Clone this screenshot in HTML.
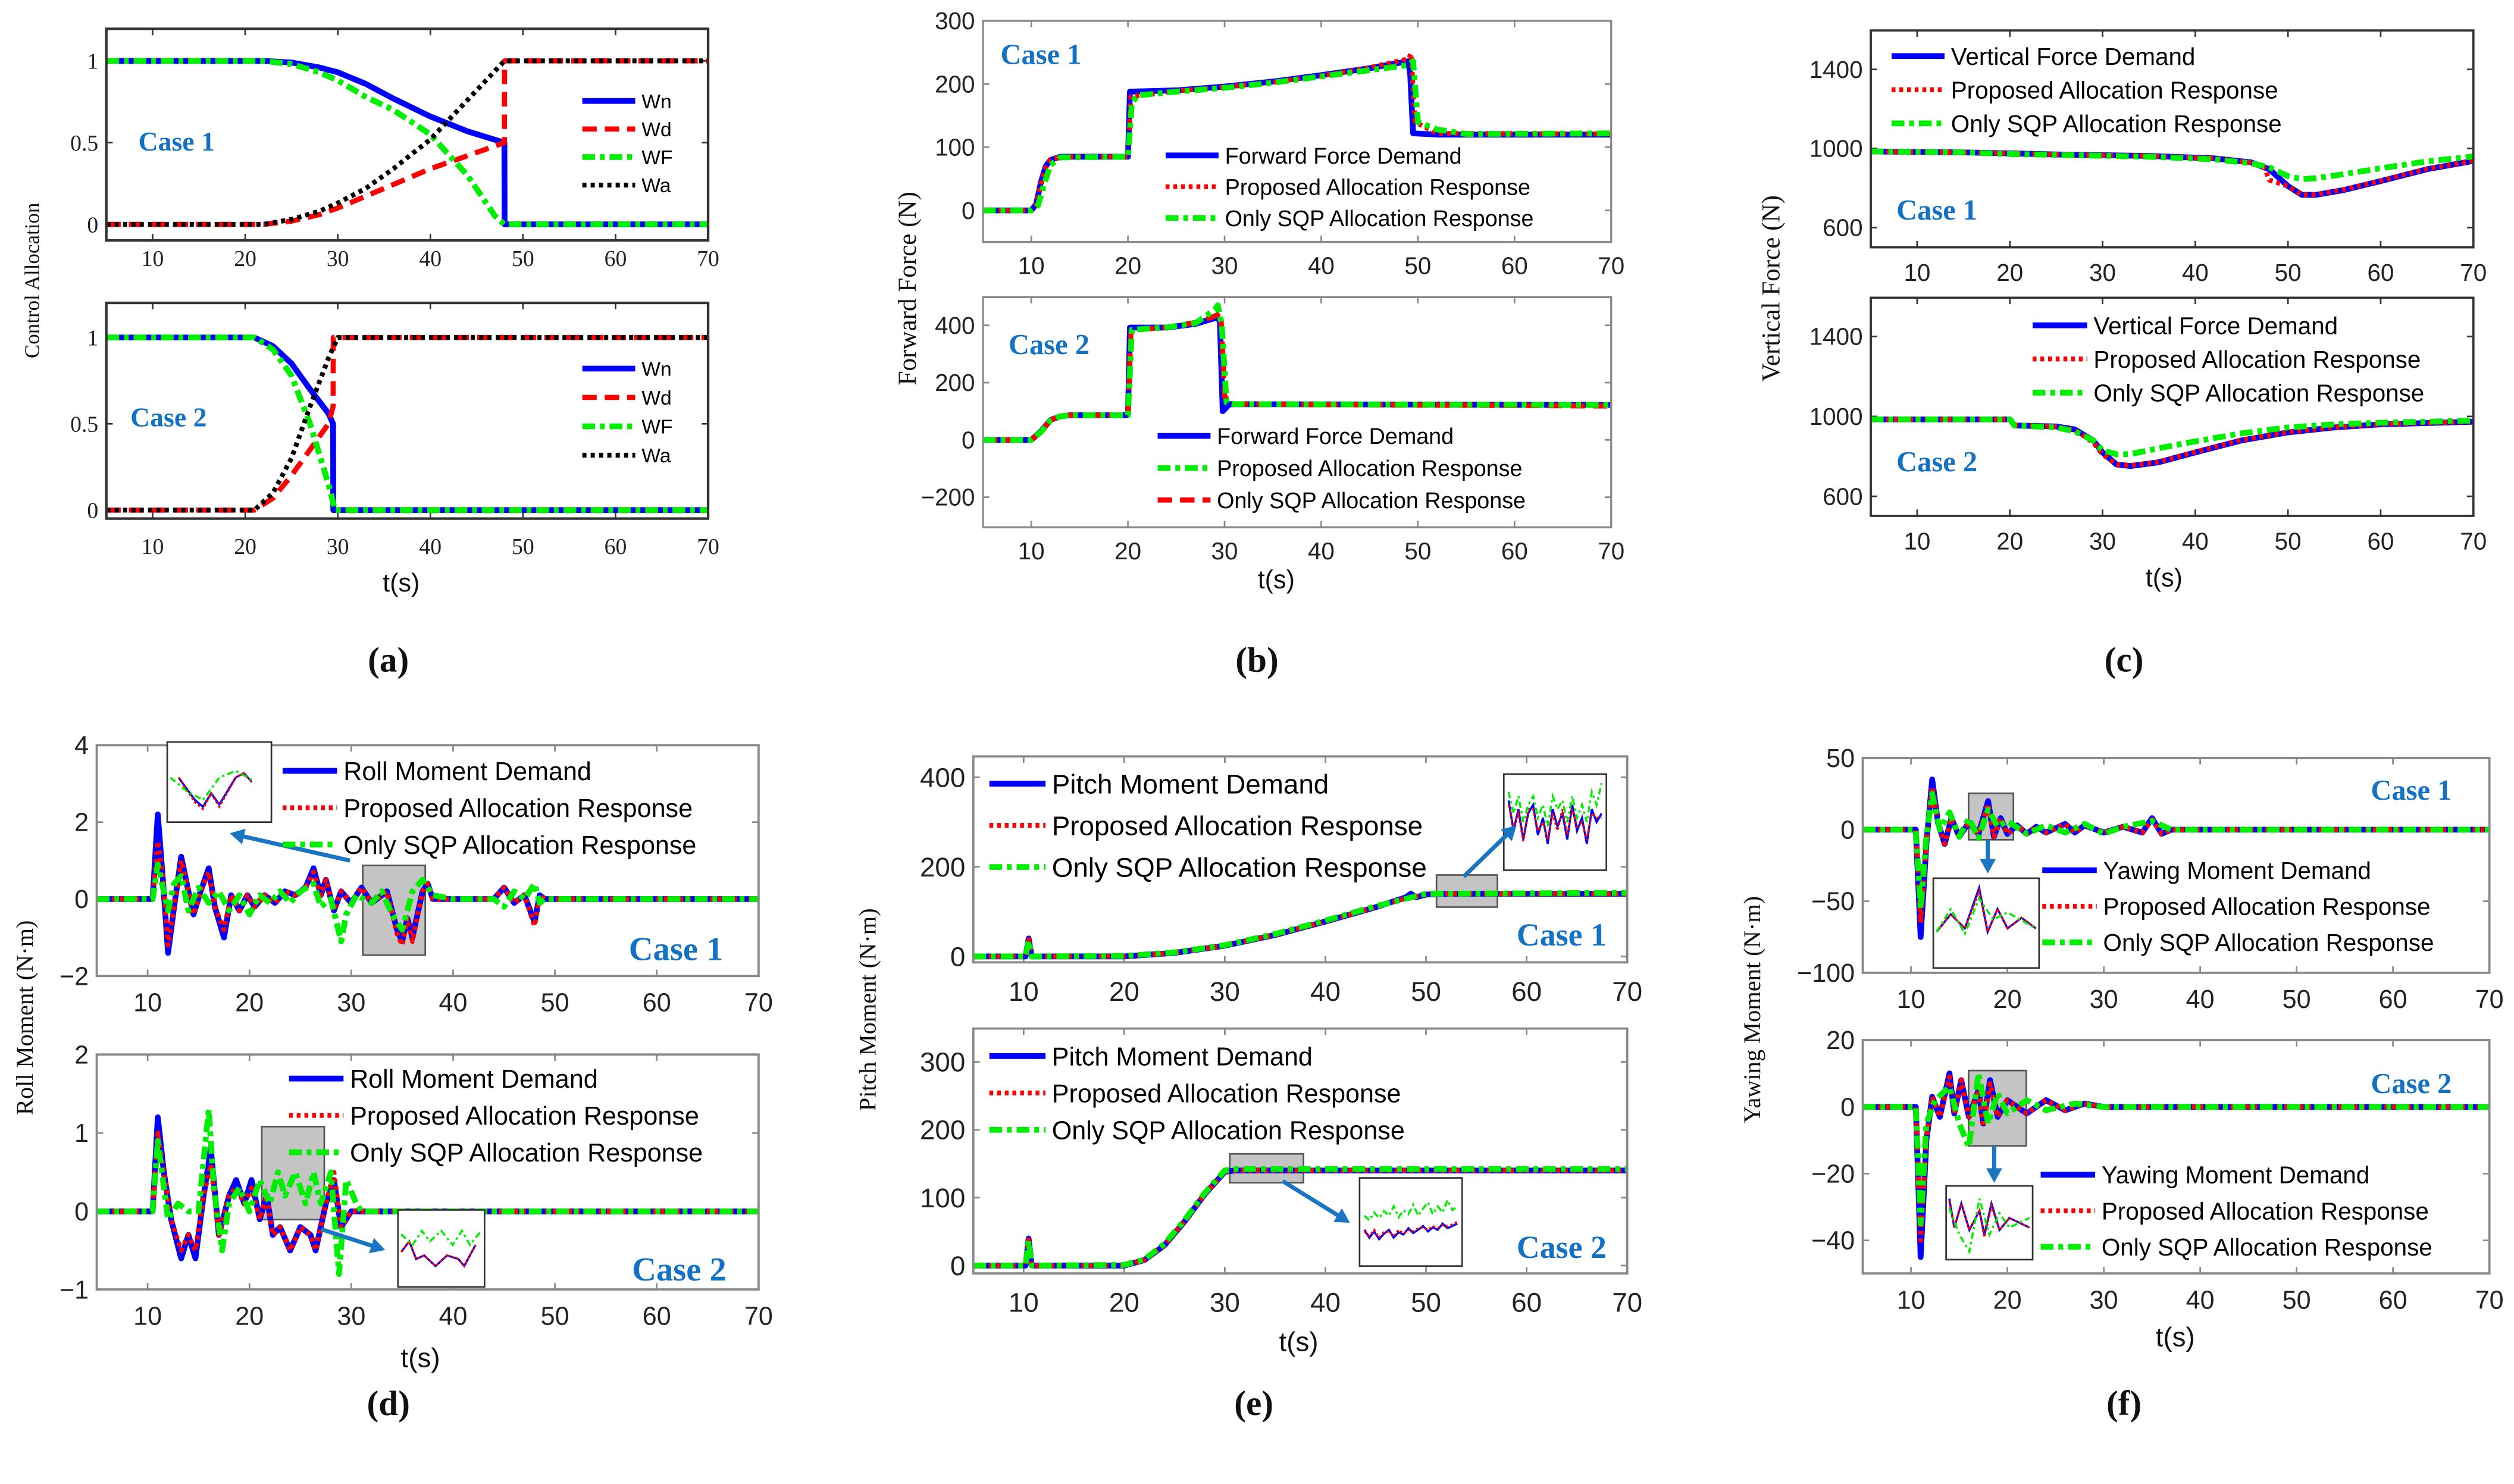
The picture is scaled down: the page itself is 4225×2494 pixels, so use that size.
<!DOCTYPE html>
<html><head><meta charset="utf-8"><style>
html,body{margin:0;padding:0;background:#fff}
svg{display:block}
</style></head><body>
<svg id="fig" xmlns="http://www.w3.org/2000/svg" width="4225" height="2494" viewBox="0 0 1568 926">
<rect x="0" y="0" width="1568" height="926" fill="#fff"/>
<g id="root"></g>
</svg>
<script>
// ---------- DATA ----------
const ticksX=[10,20,30,40,50,60,70];
const ticksA=[0,0.5,1], ticksB1=[0,100,200,300], ticksB2=[-200,0,200,400], ticksC=[600,1000,1400];
const ticksD1=[-2,0,2,4], ticksD2=[-1,0,1,2], ticksE1=[0,200,400], ticksE2=[0,100,200,300];
const ticksF1=[-100,-50,0,50], ticksF2=[-40,-20,0,20];
const legW=["Wn","Wd","WF","Wa"];
const legB1=["Forward Force Demand","Proposed Allocation Response","Only SQP Allocation Response"];
const legB2=["Forward Force Demand","Proposed Allocation Response","Only SQP Allocation Response"];
const legC=["Vertical Force Demand","Proposed Allocation Response","Only SQP Allocation Response"];
const legD=["Roll Moment Demand","Proposed Allocation Response","Only SQP Allocation Response"];
const legE=["Pitch Moment Demand","Proposed Allocation Response","Only SQP Allocation Response"];
const legF=["Yawing Moment Demand","Proposed Allocation Response","Only SQP Allocation Response"];

const a1Wn=[[5,1],[22,1],[25,0.99],[28,0.96],[30,0.93],[33,0.86],[36,0.77],[40,0.66],[44,0.57],[48,0.5],[48.01,0],[71,0]];
const a1Wd=[[5,0],[22,0],[25,0.02],[28,0.06],[30,0.1],[35,0.22],[40,0.34],[44,0.42],[48,0.5],[48.01,1],[71,1]];
const a1WF=[[5,1],[22,1],[25,0.98],[28,0.93],[30,0.88],[33,0.78],[36,0.7],[40,0.55],[44,0.3],[47,0.05],[48,0],[71,0]];
const a1Wa=[[5,0],[22,0],[25,0.03],[28,0.08],[30,0.13],[33,0.22],[36,0.34],[38,0.43],[40,0.52],[44,0.76],[48,1],[71,1]];
const a2Wn=[[5,1],[21,1],[23,0.95],[25,0.85],[27,0.7],[29,0.56],[29.5,0.5],[29.51,0],[71,0]];
const a2Wd=[[5,0],[21,0],[23,0.07],[25,0.2],[27,0.35],[29,0.5],[29.5,0.6],[29.51,1],[71,1]];
const a2WF=[[5,1],[21,1],[23,0.93],[25,0.78],[27,0.5],[29,0.15],[29.7,0],[71,0]];
const a2Wa=[[5,0],[21,0],[23,0.1],[25,0.3],[27,0.6],[29,0.88],[30,1],[71,1]];

const b1Dem=[[5,0],[10,0],[10.5,10],[11,45],[11.5,70],[12,80],[13,85],[20,85],[20.2,188],[25,190],[30,196],[35,204],[40,214],[45,225],[49,236],[49.2,215],[49.5,122],[52,120],[71,120]];
const b1Pro=[[5,0],[10,0],[10.5,8],[11,42],[11.5,68],[12,80],[13,85],[20,85],[20.3,180],[25,189],[30,195],[35,203],[40,213],[45,226],[49,240],[49.3,248],[49.7,140],[52,122],[71,121]];
const b1Sqp=[[5,0],[10,0],[10.7,8],[11.3,40],[12,72],[13,84],[20,85],[20.4,170],[21,182],[25,188],[30,194],[35,202],[40,212],[45,222],[49,230],[49.5,236],[50,140],[52,128],[55,121],[71,122]];
const b2Dem=[[5,0],[10,0],[11,30],[12,70],[13,82],[14,86],[20,86],[20.2,392],[24,392],[27,405],[29,425],[29.5,420],[29.8,100],[30.5,125],[71,122]];
const b2Pro=[[5,0],[10,0],[11,28],[12,68],[13,82],[14,86],[20,86],[20.4,385],[24,393],[27,408],[29,455],[29.3,470],[29.7,400],[30.2,130],[31,125],[71,122]];
const b2Sqp=[[5,0],[10,0],[11,30],[12,70],[13,82],[14,86],[20,86],[20.3,375],[21,385],[24,393],[27,410],[29,432],[29.6,445],[30,150],[31,125],[71,118]];

const c1Dem=[[5,985],[15,980],[20,975],[25,970],[35,962],[42,950],[46,930],[48,895],[50,810],[51.5,765],[53,765],[56,790],[60,835],[65,895],[71,945]];
const c1Pro=[[5,985],[15,980],[20,975],[25,970],[35,962],[42,950],[46,928],[47.5,900],[48,840],[50,810],[51.5,765],[53,767],[56,792],[60,837],[65,897],[71,945]];
const c1Sqp=[[5,985],[15,980],[20,972],[25,968],[35,958],[42,945],[46,925],[48,905],[50,860],[51.5,845],[53,850],[56,870],[60,900],[65,935],[71,965]];
const c2Dem=[[5,985],[20,985],[20.5,955],[25,950],[27,935],[29,880],[30,820],[31.5,760],[33,752],[36,770],[40,820],[45,880],[50,920],[55,945],[60,960],[71,975]];
const c2Pro=[[5,985],[20,985],[20.5,958],[25,948],[27,932],[29,870],[30,810],[31.5,760],[33,754],[36,772],[40,822],[45,882],[50,922],[55,946],[60,961],[71,975]];
const c2Sqp=[[5,985],[20,985],[20.5,955],[25,945],[27,925],[29,880],[30,830],[31.5,810],[33,812],[36,840],[40,875],[45,915],[50,945],[55,960],[60,968],[71,980]];

const d1Dem=[[5,0],[10.5,0],[11,2.2],[11.5,0.5],[12,-1.4],[12.6,-0.2],[13.3,1.1],[14,0.2],[14.5,-0.4],[15.2,0.2],[16,0.8],[16.6,-0.2],[17.5,-1.0],[18.2,0.1],[19,-0.3],[19.8,0.1],[20.5,-0.2],[21.5,0.1],[22.5,-0.1],[23.5,0.2],[24.5,0.1],[25.5,0.3],[26.3,0.8],[27,0.1],[27.5,0.5],[28.3,-0.3],[29,0.2],[30,-0.1],[31,0.3],[32,-0.1],[33.5,0.2],[34.5,-0.8],[35,-1.1],[35.5,-0.5],[36,-1.0],[37,0.2],[37.5,0.4],[38,0],[44,0],[45,0.3],[46,-0.1],[47,0.1],[48,-0.6],[48.5,0.1],[49,0],[71,0]];
const d1Pro=[[5,0],[10.5,0],[11,1.5],[11.5,0.6],[12,-1.2],[12.6,-0.2],[13.3,1.0],[14,0.2],[14.5,-0.4],[15.2,0.2],[16,0.7],[16.6,-0.2],[17.5,-0.8],[18.2,0.1],[19,-0.3],[19.8,0.1],[20.5,-0.2],[21.5,0.1],[22.5,-0.1],[23.5,0.2],[24.5,0.1],[25.5,0.3],[26.3,0.7],[27,0.1],[27.5,0.5],[28.3,-0.3],[29,0.2],[30,-0.1],[31,0.3],[32,-0.1],[33.5,0.2],[34.5,-0.9],[35,-1.2],[35.5,-0.5],[36,-1.1],[37,0.2],[37.5,0.4],[38,0],[44,0],[45,0.3],[46,-0.1],[47,0.1],[48,-0.7],[48.5,0.1],[49,0],[71,0]];
const d1Sqp=[[5,0],[10.5,0],[11,0.9],[11.5,0.3],[12,-0.3],[12.6,0.4],[13.3,0.6],[14,-0.3],[15,0.3],[16,-0.1],[17,0.2],[18,-0.3],[19,0.1],[20,-0.4],[21,0.1],[22,-0.1],[23,0.2],[24,-0.1],[25,0.2],[26.3,0.4],[27,-0.2],[28,0],[29,-1.1],[29.5,-0.4],[30.5,0.1],[32,-0.1],[33,0.2],[34,-0.4],[35,-0.8],[36,0.2],[37,0.5],[38,0.1],[40,0],[44,0],[45,-0.2],[46,0.2],[47,0],[48,0.4],[48.5,-0.1],[49,0],[71,0]];
const d2Dem=[[5,0],[10.5,0],[11,1.2],[11.6,0.5],[12.3,-0.1],[13.3,-0.6],[14,-0.3],[14.7,-0.6],[15.5,0.2],[16.2,0.8],[17,-0.3],[18,0.2],[18.7,0.4],[19.5,0.1],[20.2,0.4],[21,-0.1],[21.7,0.2],[22.3,-0.3],[23,-0.2],[24,-0.5],[25,-0.2],[26,-0.3],[26.5,-0.5],[27.5,0.1],[28.3,0.4],[29,-0.2],[30,0],[71,0]];
const d2Pro=[[5,0],[10.5,0],[11,1.0],[11.6,0.5],[12.3,-0.1],[13.3,-0.5],[14,-0.3],[14.7,-0.5],[15.5,0.2],[16.2,0.6],[17,-0.3],[18,0.2],[18.7,0.3],[19.5,0.1],[20.2,0.3],[21,-0.1],[21.7,0.2],[22.3,-0.3],[23,-0.2],[24,-0.5],[25,-0.2],[26,-0.3],[26.5,-0.5],[27.5,0.1],[28.3,0.5],[29,-0.2],[30,0],[71,0]];
const d2Sqp=[[5,0],[10.5,0],[11,0.9],[12,-0.1],[13,0.1],[14,0.0],[15,0.0],[16,1.3],[16.5,0.3],[17.3,-0.5],[18,0.1],[19,0.3],[20,0.0],[21,0.4],[22,0.1],[22.8,0.5],[23.5,0.2],[24.5,0.5],[25.5,0.1],[26.3,0.5],[27,0.1],[28,0.5],[28.8,-0.8],[29.5,0.4],[30.5,0.1],[31,0],[71,0]];

const e1Dem=[[5,0],[10.2,0],[10.5,40],[10.8,0],[20,0],[25,8],[30,24],[35,48],[40,78],[45,110],[48,132],[48.5,140],[49,132],[50,138],[52,140],[71,140]];
const e1Pro=[[5,0],[10.2,0],[10.5,38],[10.8,0],[20,0],[25,8],[30,24],[35,48],[40,78],[45,110],[48,130],[50,138],[52,140],[71,140]];
const e1Sqp=[[5,0],[10.2,0],[10.5,35],[10.8,0],[20,1],[25,9],[30,25],[35,50],[40,80],[45,112],[50,140],[71,142]];
const e2Dem=[[5,0],[10.2,0],[10.5,40],[10.8,0],[20,0],[22,8],[24,30],[26,65],[28,105],[30,138],[31,140],[71,140]];
const e2Pro=[[5,0],[10.2,0],[10.5,38],[10.8,0],[20,0],[22,8],[24,30],[26,65],[28,105],[30,138],[31,140],[71,140]];
const e2Sqp=[[5,0],[10.2,0],[10.5,36],[10.8,0],[20,1],[22,9],[24,32],[26,67],[28,107],[30,140],[31,142],[71,142]];
// zoomed inset samples (fraction of inset height, 0=top)
const e1InsBlue=[0.25,0.6,0.35,0.7,0.4,0.3,0.65,0.45,0.75,0.35,0.55,0.4,0.7,0.3,0.6,0.45,0.75,0.35,0.5,0.4];
const e1InsRed=[0.3,0.55,0.4,0.72,0.35,0.35,0.6,0.5,0.7,0.4,0.6,0.35,0.65,0.35,0.55,0.5,0.7,0.4,0.45,0.45];
const e1InsGreen=[0.15,0.4,0.2,0.5,0.3,0.2,0.45,0.3,0.55,0.2,0.35,0.25,0.5,0.2,0.45,0.3,0.5,0.15,0.3,0.05];
const e2InsBlue=[0.6,0.7,0.62,0.72,0.65,0.6,0.7,0.63,0.66,0.58,0.64,0.6,0.55,0.62,0.57,0.6,0.52,0.58,0.55,0.52];
const e2InsRed=[0.62,0.68,0.6,0.7,0.63,0.62,0.68,0.6,0.65,0.6,0.62,0.58,0.57,0.6,0.55,0.58,0.54,0.56,0.53,0.5];
const e2InsGreen=[0.42,0.48,0.38,0.45,0.36,0.42,0.3,0.44,0.35,0.4,0.28,0.42,0.33,0.25,0.4,0.3,0.38,0.22,0.35,0.3];

const f1Dem=[[5,0],[10.5,0],[11,-75],[11.6,-10],[12.2,35],[12.8,5],[13.5,-10],[14.2,8],[15,-5],[16,5],[17,-3],[18,20],[18.6,-5],[19.3,8],[20,-3],[21,3],[22,-3],[23,2],[24,-2],[26,4],[27,-2],[28,3],[30,-2],[32,2],[34,-2],[35,8],[36,-3],[37,0],[71,0]];
const f1Pro=[[5,0],[10.5,0],[11,-65],[11.6,-10],[12.2,30],[12.8,5],[13.5,-10],[14.2,8],[15,-5],[16,5],[17,-3],[18,18],[18.6,-5],[19.3,8],[20,-3],[21,3],[22,-3],[23,2],[24,-2],[26,4],[27,-2],[28,3],[30,-2],[32,2],[34,-2],[35,7],[36,-3],[37,0],[71,0]];
const f1Sqp=[[5,0],[10.5,0],[11,-55],[11.6,-5],[12.2,25],[13,0],[14,12],[15,-5],[16,8],[17,-6],[18,14],[19,2],[20,6],[22,-3],[24,3],[26,-2],[28,4],[30,-3],[32,2],[35,6],[37,0],[71,0]];
const f2Dem=[[5,0],[10.5,0],[11,-45],[11.6,-10],[12.2,3],[13,-3],[14,10],[14.5,-2],[15.2,8],[16,-3],[17,5],[17.5,-5],[18.2,8],[19,-3],[20,2],[22,-2],[24,2],[26,-1],[28,1],[30,0],[71,0]];
const f2Pro=[[5,0],[10.5,0],[11,-40],[11.6,-10],[12.2,3],[13,-3],[14,9],[14.5,-2],[15.2,8],[16,-3],[17,5],[17.5,-6],[18.2,7],[19,-3],[20,2],[22,-2],[24,2],[26,-1],[28,1],[30,0],[71,0]];
const f2Sqp=[[5,0],[10.5,0],[11,-35],[11.6,-5],[12.5,2],[14,6],[15,-5],[16,-12],[17,10],[18,-5],[19,4],[20,-2],[22,2],[24,-1],[27,1],[30,0],[71,0]];

// ---------- RENDERING ----------
const NS="http://www.w3.org/2000/svg";
const root=document.getElementById('root');
function mk(tag,attrs,parent){const e=document.createElementNS(NS,tag);for(const k in attrs)e.setAttribute(k,attrs[k]);(parent||root).appendChild(e);return e;}
const STY={
 blue:{stroke:"#0000ff","stroke-width":3.6,fill:"none"},
 red:{stroke:"#ff0000","stroke-width":3,"stroke-dasharray":"2.4,2.4",fill:"none"},
 redDash:{stroke:"#ff0000","stroke-width":3.2,"stroke-dasharray":"9,5",fill:"none"},
 green:{stroke:"#00ee00","stroke-width":3.6,"stroke-dasharray":"8,3,3,3",fill:"none"},
 black:{stroke:"#000","stroke-width":3,"stroke-dasharray":"2.6,2.6",fill:"none"}
};
const TF='"Liberation Sans Narrow","Liberation Sans",sans-serif';
let clipN=0;
function panel(c){
 const g=mk('g',{});
 
 
 const sx=v=>c.x0+(v-c.xd[0])/(c.xd[1]-c.xd[0])*(c.x1-c.x0);
 const sy=v=>c.p0+(v-c.v0)/(c.v1-c.v0)*(c.p1-c.p0);
 const frame=c.frame||"#333";
 ticksX.forEach(t=>{const x=sx(t);
  mk('line',{x1:x,x2:x,y1:c.y1,y2:c.y1-4,stroke:frame,"stroke-width":1},g);
  mk('line',{x1:x,x2:x,y1:c.y0,y2:c.y0+4,stroke:frame,"stroke-width":1},g);
  const tl=mk('text',{x:x,y:c.y1+c.xlo,"text-anchor":"middle","font-size":c.fs,"font-family":c.tf||TF,fill:"#222"},g);
  
  
  tl.textContent=t;});
 c.yt.forEach(t=>{const y=sy(t);
  mk('line',{x1:c.x0,x2:c.x0+4,y1:y,y2:y,stroke:frame,"stroke-width":1},g);
  mk('line',{x1:c.x1,x2:c.x1-4,y1:y,y2:y,stroke:frame,"stroke-width":1},g);
  const tl=mk('text',{x:c.x0-5,y:y+c.fs*0.35,"text-anchor":"end","font-size":c.fs,"font-family":c.tf||TF,fill:"#222"},g);
  
  
  tl.textContent=String(t).replace('-','\u2212');});
 const id='cl'+(clipN++);
 const cp=mk('clipPath',{id:id},g);mk('rect',{x:c.x0,y:c.y0,width:c.x1-c.x0,height:c.y1-c.y0},cp);
 const dg=mk('g',{'clip-path':`url(#${id})`},g);
 if(c.gray){const r=mk('rect',{x:c.gray[0],y:c.gray[1],width:c.gray[2],height:c.gray[3],fill:"#c4c4c4",stroke:"#555","stroke-width":1},dg);
  
  }
 c.series.forEach(s=>{
  const p=mk('polyline',Object.assign({points:s.d.map(q=>sx(q[0]).toFixed(1)+','+sy(q[1]).toFixed(1)).join(' '),"stroke-linejoin":"round"},STY[s.st]),dg);
  
  
 });
 const fr=mk('rect',{x:c.x0,y:c.y0,width:c.x1-c.x0,height:c.y1-c.y0,fill:"none",stroke:frame,"stroke-width":c.fw||1.5},g);
 
 
 if(c.inset){const [ix,iy,iw,ih]=c.inset;
  const ib=mk('rect',{x:ix,y:iy,width:iw,height:ih,fill:"#fff",stroke:"#333","stroke-width":1},g);
  
  
  const ig=mk('g',{},g);
  const thin=st0=>{const st=Object.assign({},STY[st0]);st["stroke-width"]=1.3;if(st["stroke-dasharray"])st["stroke-dasharray"]=st0=='red'?"1.5,1.5":"4,2,1.5,2";return st;};
  if(c.insData){
   c.insData.forEach(s=>{
    const n=s.d.length;
    const p=mk('polyline',Object.assign({points:s.d.map((v,i)=>(ix+3+i/(n-1)*(iw-6)).toFixed(1)+','+(iy+3+v*(ih-6)).toFixed(1)).join(' ')},thin(s.st)),ig);
    
    
   });
  } else {
  c.series.forEach(s=>{
   const src=s.d.filter(q=>q[0]>=c.iz[0]&&q[0]<=c.iz[1]);
   if(src.length<2)return;
   const ax=v=>ix+2+(v-c.iz[0])/(c.iz[1]-c.iz[0])*(iw-4);
   const ay=v=>iy+ih/2-(v-c.iz[2])*c.iz[3];
   const p=mk('polyline',Object.assign({points:src.map(q=>ax(q[0]).toFixed(1)+','+Math.max(iy+2,Math.min(iy+ih-2,ay(q[1]))).toFixed(1)).join(' ')},thin(s.st)),ig);
   
   
  });}
  const [ax1,ay1,ax2,ay2]=c.arrow;
  const ang=Math.atan2(ay2-ay1,ax2-ax1);
  const ar=mk('g',{},g);
  
  
  mk('line',{x1:ax1,y1:ay1,x2:ax2-6*Math.cos(ang),y2:ay2-6*Math.sin(ang),stroke:"#1a76c2","stroke-width":2.6},ar);
  const hx=ax2,hy=ay2,L=9,W=5;
  mk('polygon',{points:`${hx},${hy} ${hx-L*Math.cos(ang)+W*Math.sin(ang)},${hy-L*Math.sin(ang)-W*Math.cos(ang)} ${hx-L*Math.cos(ang)-W*Math.sin(ang)},${hy-L*Math.sin(ang)+W*Math.cos(ang)}`,fill:"#1a76c2"},ar);
 }
 if(c.leg){const L=c.leg;
  const lg=mk('g',{},g);
  
  
  L.labels.forEach((lab,i)=>{const y=L.y+i*L.dy;
   const e=mk('g',{},lg);
   
   
   const st=Object.assign({},STY[L.st[i]]);
   mk('line',Object.assign({x1:L.x,x2:L.x+L.w,y1:y,y2:y},st),e);
   const t=mk('text',{x:L.x+L.w+4,y:y+L.fs*0.36,"font-size":L.fs,"font-family":L.ff||TF,fill:"#000"},e);
   t.textContent=lab;});
 }
 const cl=mk('text',{x:c.case[0],y:c.case[1],"font-size":c.case[2],"font-family":'"Liberation Serif",serif',"font-weight":"bold",fill:"#1472c4"},g);
 
 
 cl.textContent=c.case[3];
}
function txt(x,y,s,fs,ff,name,rot,extra){const t=mk('text',Object.assign({x:x,y:y,"font-size":fs,"font-family":ff,"text-anchor":"middle",fill:"#111"},extra||{}));
 if(rot)t.setAttribute('transform',`rotate(-90 ${x} ${y})`);
 
 
 t.textContent=s;return t;}
const SERIF='"Liberation Serif",serif';
const SANS='"Liberation Sans",sans-serif';
const sW=["blue","redDash","green","black"];
const s3=["blue","red","green"];
// (a)
panel({name:'panel-a-case1',x0:66,x1:441.5,xd:[5,70],y0:18,y1:150,v0:0,p0:140,v1:1,p1:38,yt:ticksA,fs:14,tf:SERIF,xlo:16,fw:1.6,
 series:[{d:a1Wn,st:'blue',n:'wn-line'},{d:a1Wd,st:'redDash',n:'wd-line'},{d:a1WF,st:'green',n:'wf-line'},{d:a1Wa,st:'black',n:'wa-line'}],
 leg:{x:363,y:63,dy:17.5,w:33,fs:12.5,labels:legW,st:sW},case:[86,94,17,'Case 1']});
panel({name:'panel-a-case2',x0:66,x1:441.5,xd:[5,70],y0:189,y1:323.6,v0:0,p0:318.3,v1:1,p1:210.6,yt:ticksA,fs:14,tf:SERIF,xlo:22,fw:1.6,
 series:[{d:a2Wn,st:'blue',n:'wn-line'},{d:a2Wd,st:'redDash',n:'wd-line'},{d:a2WF,st:'green',n:'wf-line'},{d:a2Wa,st:'black',n:'wa-line'}],
 leg:{x:363,y:230,dy:18,w:33,fs:12.5,labels:legW,st:sW},case:[81,266,17,'Case 2']});
txt(24,175,'Control Allocation',13,SERIF,'y-axis-title',true);
txt(250,369,'t(s)',16,SANS,'x-axis-title');
// (b)
panel({name:'panel-b-case1',x0:613,x1:1005,xd:[5,70],y0:13,y1:151,v0:0,p0:131.3,v1:300,p1:13,yt:ticksB1,fs:15,xlo:20,frame:"#888",fw:1.2,
 series:[{d:b1Dem,st:'blue',n:'demand-line'},{d:b1Pro,st:'red',n:'proposed-line'},{d:b1Sqp,st:'green',n:'sqp-line'}],
 leg:{x:727,y:97,dy:19.5,w:33,fs:14,labels:legB1,st:s3},case:[624,40,18,'Case 1']});
panel({name:'panel-b-case2',x0:613,x1:1005,xd:[5,70],y0:185.4,y1:329,v0:0,p0:274.5,v1:400,p1:203,yt:ticksB2,fs:15,xlo:20,frame:"#888",fw:1.2,
 series:[{d:b2Dem,st:'blue',n:'demand-line'},{d:b2Sqp,st:'redDash',n:'sqp-line'},{d:b2Pro,st:'green',n:'proposed-line'}],
 leg:{x:722,y:272,dy:20,w:33,fs:14,labels:legB2,st:["blue","green","redDash"]},case:[629,221,18,'Case 2']});
txt(571,180,'Forward Force (N)',16,SERIF,'y-axis-title',true);
txt(796,367,'t(s)',16,SANS,'x-axis-title');
// (c)
panel({name:'panel-c-case1',x0:1167,x1:1543,xd:[5,70],y0:19,y1:154.3,v0:600,p0:142,v1:1400,p1:43.3,yt:ticksC,fs:15,xlo:21,fw:1.4,
 series:[{d:c1Dem,st:'blue',n:'demand-line'},{d:c1Pro,st:'red',n:'proposed-line'},{d:c1Sqp,st:'green',n:'sqp-line'}],
 leg:{x:1180,y:35,dy:21,w:33,fs:15,labels:legC,st:s3},case:[1183,137,18,'Case 1']});
panel({name:'panel-c-case2',x0:1167,x1:1543,xd:[5,70],y0:185.8,y1:321.9,v0:600,p0:309.7,v1:1400,p1:210,yt:ticksC,fs:15,xlo:21,fw:1.4,
 series:[{d:c2Dem,st:'blue',n:'demand-line'},{d:c2Pro,st:'red',n:'proposed-line'},{d:c2Sqp,st:'green',n:'sqp-line'}],
 leg:{x:1268,y:203,dy:21,w:34,fs:15,labels:legC,st:s3},case:[1183,294,18,'Case 2']});
txt(1110,180,'Vertical Force (N)',16,SERIF,'y-axis-title',true);
txt(1350,366,'t(s)',16,SANS,'x-axis-title');
// (d)
panel({name:'panel-d-case1',x0:60,x1:473,xd:[5,70],y0:465,y1:609,v0:0,p0:561,v1:4,p1:465,yt:ticksD1,fs:16,xlo:22,frame:"#888",fw:1.4,
 series:[{d:d1Dem,st:'blue',n:'demand-line'},{d:d1Pro,st:'red',n:'proposed-line'},{d:d1Sqp,st:'green',n:'sqp-line'}],
 gray:[226,540,39,56],inset:[104,463,65,50],iz:[33,39,0,14],arrow:[218,537,143,520],
 leg:{x:176,y:481,dy:23,w:34,fs:16,labels:legD,st:s3},case:[392,599,21,'Case 1']});
panel({name:'panel-d-case2',x0:60,x1:473,xd:[5,70],y0:658,y1:804.6,v0:0,p0:755.9,v1:1,p1:707,yt:ticksD2,fs:16,xlo:22,frame:"#888",fw:1.4,
 series:[{d:d2Dem,st:'blue',n:'demand-line'},{d:d2Pro,st:'red',n:'proposed-line'},{d:d2Sqp,st:'green',n:'sqp-line'}],
 gray:[163,703,39,58],inset:[248,755,54,48],iz:[21,28,0,22],arrow:[200,767,240,780],
 leg:{x:180,y:673,dy:23,w:34,fs:16,labels:legD,st:s3},case:[394,799,21,'Case 2']});
txt(20,635,'Roll Moment (N\u00b7m)',15,SERIF,'y-axis-title',true);
txt(262,853,'t(s)',17,SANS,'x-axis-title');
// (e)
panel({name:'panel-e-case1',x0:607,x1:1015,xd:[5,70],y0:472,y1:600.5,v0:0,p0:596.8,v1:400,p1:485,yt:ticksE1,fs:17,xlo:24,frame:"#888",fw:1.4,
 series:[{d:e1Dem,st:'blue',n:'demand-line'},{d:e1Pro,st:'red',n:'proposed-line'},{d:e1Sqp,st:'green',n:'sqp-line'}],
 gray:[896,546,38,20],inset:[938,483,64,60],insData:[{d:e1InsBlue,st:'blue'},{d:e1InsRed,st:'red'},{d:e1InsGreen,st:'green'}],arrow:[913,547,946,515],
 leg:{x:617,y:489,dy:26,w:35,fs:17,labels:legE,st:s3},case:[946,590,20,'Case 1']});
panel({name:'panel-e-case2',x0:607,x1:1015,xd:[5,70],y0:641.8,y1:794.6,v0:0,p0:789.7,v1:300,p1:662.6,yt:ticksE2,fs:17,xlo:24,frame:"#888",fw:1.4,
 series:[{d:e2Dem,st:'blue',n:'demand-line'},{d:e2Pro,st:'red',n:'proposed-line'},{d:e2Sqp,st:'green',n:'sqp-line'}],
 gray:[767,720,46,18],inset:[848,735,64,55],insData:[{d:e2InsBlue,st:'blue'},{d:e2InsRed,st:'red'},{d:e2InsGreen,st:'green'}],arrow:[800,737,842,763],
 leg:{x:617,y:659,dy:23,w:35,fs:16,labels:legE,st:s3},case:[946,785,20,'Case 2']});
txt(546,630,'Pitch Moment (N\u00b7m)',15,SERIF,'y-axis-title',true);
txt(810,843,'t(s)',17,SANS,'x-axis-title');
// (f)
panel({name:'panel-f-case1',x0:1162,x1:1553,xd:[5,70],y0:473,y1:607,v0:50,p0:473,v1:-100,p1:607,yt:ticksF1,fs:16,xlo:22,frame:"#888",fw:1.4,
 series:[{d:f1Dem,st:'blue',n:'demand-line'},{d:f1Pro,st:'red',n:'proposed-line'},{d:f1Sqp,st:'green',n:'sqp-line'}],
 gray:[1228,495,28,29],inset:[1206,548,66,56],iz:[15,22,0,1.1],arrow:[1240,524,1240,545],
 leg:{x:1274,y:543,dy:22.5,w:34,fs:15,labels:legF,st:s3},case:[1479,499,18,'Case 1']});
panel({name:'panel-f-case2',x0:1162,x1:1553,xd:[5,70],y0:649,y1:794.6,v0:20,p0:649,v1:-40,p1:774,yt:ticksF2,fs:16,xlo:22,frame:"#888",fw:1.4,
 series:[{d:f2Dem,st:'blue',n:'demand-line'},{d:f2Pro,st:'red',n:'proposed-line'},{d:f2Sqp,st:'green',n:'sqp-line'}],
 gray:[1228,668,36,47],inset:[1214,740,54,46],iz:[14,22,0,1.5],arrow:[1244,715,1244,738],
 leg:{x:1273,y:733,dy:22.5,w:34,fs:15,labels:legF,st:s3},case:[1479,682,18,'Case 2']});
txt(1098,630,'Yawing Moment (N\u00b7m)',15,SERIF,'y-axis-title',true);
txt(1357,840,'t(s)',17,SANS,'x-axis-title');
// sub-figure labels
[['(a)',242],['(b)',784],['(c)',1325]].forEach(a=>txt(a[1],419,a[0],22,SERIF,'subfigure-label',false,{"font-weight":"bold"}));
[['(d)',242],['(e)',782],['(f)',1325]].forEach(a=>txt(a[1],883,a[0],22,SERIF,'subfigure-label',false,{"font-weight":"bold"}));
</script>
</body></html>
